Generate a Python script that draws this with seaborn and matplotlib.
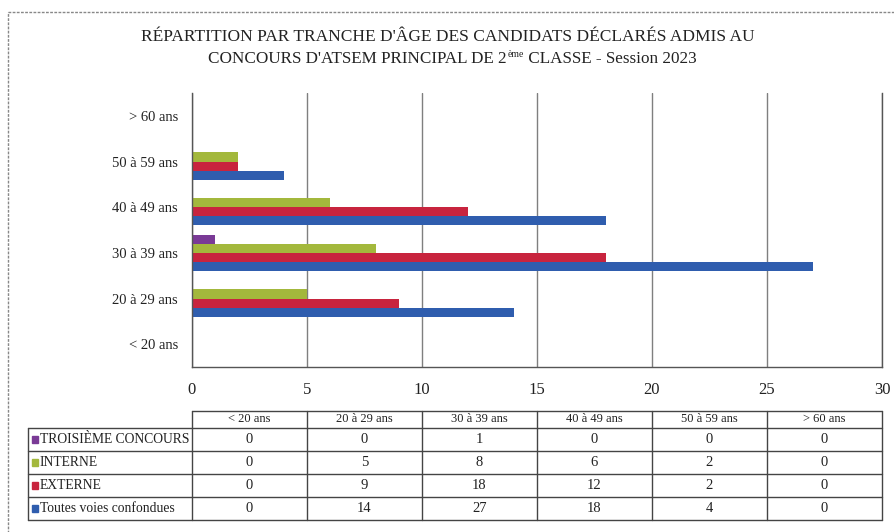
import numpy as np
import pandas as pd
import matplotlib
matplotlib.use("Agg")
import matplotlib.pyplot as plt
import seaborn as sns
from matplotlib.patches import Rectangle
from matplotlib.lines import Line2D

tranches = ["< 20 ans", "20 à 29 ans", "30 à 39 ans", "40 à 49 ans", "50 à 59 ans", "> 60 ans"]
series = ["TROISIÈME CONCOURS", "INTERNE", "EXTERNE", "Toutes voies confondues"]
troisieme = [0, 0, 1, 0, 0, 0]
interne = [0, 5, 8, 6, 2, 0]
externe = [0, 9, 18, 12, 2, 0]
toutes = [0, 14, 27, 18, 4, 0]
colors = ["#7a3a96", "#a3b83c", "#c8243e", "#2f5dae"]

values = [troisieme, interne, externe, toutes]
rows = []
for name, vals in zip(series, values):
    for t, v in zip(tranches, vals):
        rows.append({"tranche": t, "serie": name, "n": v})
df = pd.DataFrame(rows)

sns.set_theme(style="white")
plt.rcParams["font.family"] = ["Liberation Serif", "DejaVu Serif"]

W, H = 895, 532
fig = plt.figure(figsize=(W / 100, H / 100), dpi=100)

# pixel geometry of plot area
x0, x1, y0, y1 = 192, 882, 93, 367
ax = fig.add_axes([x0 / W, 1 - y1 / H, (x1 - x0) / W, (y1 - y0) / H])

sns.barplot(data=df, y="tranche", x="n", hue="serie", order=tranches[::-1],
            hue_order=series, palette=colors, orient="h", width=0.8,
            saturation=1, ax=ax, legend=False, edgecolor="none")

ax.set_xlim(0, 30)
ax.set_xticks(range(0, 31, 5))
ax.set_xlabel("")
ax.set_ylabel("")
ax.grid(axis="x", color="#7f7f7f", linewidth=1)
ax.grid(axis="y", visible=False)
ax.set_axisbelow(True)
for side in ["left", "bottom", "right"]:
    ax.spines[side].set_color("#555555")
    ax.spines[side].set_linewidth(1)
ax.spines["top"].set_visible(False)
ax.tick_params(axis="x", length=0, pad=11, labelsize=12, labelcolor="#222222")
ax.tick_params(axis="y", length=0, pad=10, labelsize=10.5, labelcolor="#222222")

# title (second line has a small superscript "ème")
fig.text(0.5, 1 - 37 / H, "RÉPARTITION PAR TRANCHE D'ÂGE DES CANDIDATS DÉCLARÉS ADMIS AU",
         ha="center", va="center", fontsize=12.5, color="#222222")
renderer = fig.canvas.get_renderer()
part1 = fig.text(0, 0, "CONCOURS D'ATSEM PRINCIPAL DE 2", fontsize=12.3, color="#222222",
                 va="baseline")
sup = fig.text(0, 0, "ème", fontsize=7, color="#222222", va="baseline")
part2 = fig.text(0, 0, " CLASSE - Session 2023", fontsize=12.3, color="#222222", va="baseline")
w1 = part1.get_window_extent(renderer).width
ws = sup.get_window_extent(renderer).width
w2 = part2.get_window_extent(renderer).width
start = (W - (w1 + ws + w2)) / 2 + 4
base = H - 63
part1.set_position((start / W, base / H))
sup.set_position(((start + w1 + 1) / W, (base + 6) / H))
part2.set_position(((start + w1 + ws + 1) / W, base / H))

# data table under the chart
tab = fig.add_axes([0, 0, 1, 1])
tab.set_xlim(0, W)
tab.set_ylim(H, 0)
tab.axis("off")

col_edges = [28] + [x0 + i * (x1 - x0) / 6 for i in range(7)]
row_edges = [411, 428, 451, 474, 497, 520]
lc = "#444444"

# header row (no label cell)
tab.add_line(Line2D([col_edges[1], col_edges[-1]], [row_edges[0]] * 2, color=lc, lw=1))
for i in range(1, 6):
    tab.add_line(Line2D([col_edges[0], col_edges[-1]], [row_edges[i]] * 2, color=lc, lw=1))
tab.add_line(Line2D([col_edges[0]] * 2, [row_edges[1], row_edges[-1]], color=lc, lw=1))
for c in col_edges[1:]:
    tab.add_line(Line2D([c] * 2, [row_edges[0], row_edges[-1]], color=lc, lw=1))

for j, t in enumerate(tranches):
    cx = (col_edges[j + 1] + col_edges[j + 2]) / 2
    tab.text(cx, (row_edges[0] + row_edges[1]) / 2, t, ha="center", va="center",
             fontsize=9, color="#222222")

for i, (name, vals, col) in enumerate(zip(series, values, colors)):
    cy = (row_edges[i + 1] + row_edges[i + 2]) / 2
    tab.add_patch(Rectangle((32, cy - 3.5), 6, 7, color=col))
    tab.text(40, cy, name, ha="left", va="center", fontsize=9.8, color="#222222")
    for j, v in enumerate(vals):
        cx = (col_edges[j + 1] + col_edges[j + 2]) / 2
        tab.text(cx, cy, str(v), ha="center", va="center", fontsize=10.5, color="#222222")

# outer frame of the figure
tab.add_patch(Rectangle((8, 12), W + 20, H, fill=False, edgecolor="#888888",
                        linewidth=1, linestyle=(0, (2, 1))))

fig.savefig("out.png", dpi=100)
